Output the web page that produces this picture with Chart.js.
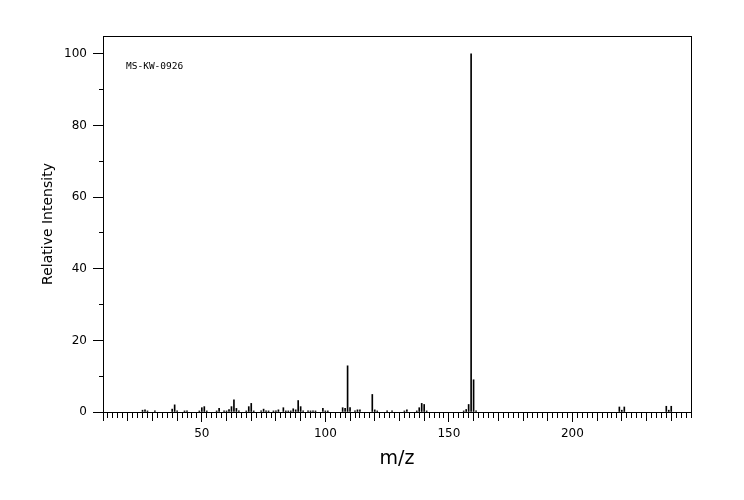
<!DOCTYPE html>
<html>
<head>
<meta charset="utf-8">
<title>MS-KW-0926</title>
<script src="https://cdn.jsdelivr.net/npm/chart.js@4.4.1/dist/chart.umd.min.js"></script>
<style>
  html, body { margin: 0; padding: 0; background: #fff; }
  #chartContainer { width: 744px; height: 500px; }
</style>
</head>
<body>
<div id="chartContainer"><canvas id="msChart" width="744" height="500"></canvas></div>
<script>
// Peak list (m/z and relative intensity)
var mzValues = [26, 27, 28, 31, 38, 39, 40, 43, 44, 49, 50, 51, 52, 56, 57, 59, 60, 61, 62, 63,
  64, 65, 68, 69, 70, 71, 74, 75, 76, 77, 79, 80, 81, 83, 84, 85, 86, 87, 88, 89,
  90, 91, 93, 94, 95, 96, 99, 100, 101, 107, 108, 109, 110, 112, 113, 114, 119, 120, 121, 125,
  127, 132, 133, 137, 138, 139, 140, 141, 156, 157, 158, 159, 160, 161, 219, 220, 221, 238, 239, 240];
var intensities = [0.5, 0.6, 0.3, 0.3, 0.8, 2.0, 0.3, 0.3, 0.3, 0.3, 1.2, 1.5, 0.3, 0.3, 1.0, 0.3, 0.3, 0.7, 1.5, 3.4,
  1.0, 0.3, 0.3, 1.5, 2.4, 0.3, 0.3, 0.8, 0.3, 0.3, 0.3, 0.3, 0.6, 1.2, 0.3, 0.3, 0.3, 0.9, 0.6, 3.2,
  1.5, 0.3, 0.3, 0.3, 0.3, 0.3, 1.0, 0.3, 0.3, 1.2, 1.0, 12.9, 1.2, 0.3, 0.6, 0.6, 4.9, 0.6, 0.3, 0.3,
  0.3, 0.3, 0.6, 0.3, 1.2, 2.4, 2.1, 0.3, 0.3, 0.7, 2.1, 100, 9.0, 0.3, 1.4, 0.5, 1.4, 1.6, 0.5, 1.6];

// Which ticks carry a label
var xLabelTicks = [50, 100, 150, 200];
var yLabelTicks = [0, 20, 40, 60, 80, 100];
var sampleId = 'MS-KW-0926';

var fontFamily = '"DejaVu Sans", sans-serif';
Chart.defaults.color = '#000';
Chart.defaults.font.family = fontFamily;

// Frame round the plot area and the sample id in its corner
var framePlugin = {
  id: 'frame',
  afterDraw: function(chart) {
    var ctx = chart.ctx;
    var area = chart.chartArea;
    var l = Math.round(area.left) + 0.5;
    var t = Math.round(area.top) + 0.5;
    var r = Math.round(area.right) + 0.5;
    var b = Math.round(area.bottom) + 0.5;
    ctx.save();
    ctx.strokeStyle = '#000';
    ctx.lineWidth = 1;
    ctx.strokeRect(l, t, r - l, b - t);
    ctx.font = '9.5px "DejaVu Sans Mono", monospace';
    ctx.fillStyle = '#000';
    ctx.textBaseline = 'middle';
    ctx.fillText(sampleId, area.left + 23, area.top + 31);
    ctx.restore();
  }
};

var points = mzValues.map(function(mz, i) {
  return { x: mz, y: intensities[i] };
});

var ctx = document.getElementById('msChart').getContext('2d');
var chart = new Chart(ctx, {
  type: 'bar',
  data: {
    datasets: [{
      label: 'Relative Intensity',
      data: points,
      backgroundColor: '#000',
      borderWidth: 0,
      barThickness: 1
    }]
  },
  options: {
    responsive: false,
    animation: false,
    layout: { padding: { left: 0, top: 36, right: 53, bottom: 0 } },
    plugins: {
      legend: { display: false },
      tooltip: { enabled: false }
    },
    scales: {
      x: {
        type: 'linear',
        min: 10,
        max: 248,
        offset: false,
        afterFit: function(scale) { scale.height = 88; },
        border: { display: true, color: '#000', width: 1 },
        grid: {
          offset: false,
          drawOnChartArea: false,
          tickLength: 10,
          tickColor: '#000',
          tickBorderDash: function(c) {
            var v = c.tick ? c.tick.value : 0;
            if (v % 50 === 0) return [];
            if (v % 10 === 0) return [8, 100];
            return [5, 100];
          }
        },
        ticks: {
          stepSize: 2,
          autoSkip: false,
          includeBounds: false,
          maxRotation: 0,
          padding: 5,
          font: { size: 12 },
          callback: function(value) {
            return xLabelTicks.indexOf(value) >= 0 ? value : '';
          }
        },
        title: {
          display: true,
          text: 'm/z',
          font: { size: 19 },
          padding: { top: 4, bottom: 30 }
        }
      },
      y: {
        min: 0,
        max: 105,
        afterFit: function(scale) { scale.width = 103; },
        border: { display: true, color: '#000', width: 1 },
        grid: {
          drawOnChartArea: false,
          tickLength: 10,
          tickColor: '#000',
          tickBorderDash: function(c) {
            var v = c.tick ? c.tick.value : 0;
            if (v % 20 === 0) return [];
            return [0, 6, 4, 100];
          }
        },
        ticks: {
          stepSize: 10,
          includeBounds: false,
          padding: 6,
          font: { size: 12 },
          callback: function(value) {
            return yLabelTicks.indexOf(value) >= 0 ? value : '';
          }
        },
        title: {
          display: true,
          text: 'Relative Intensity',
          font: { size: 14 },
          padding: { top: 40, bottom: 4 }
        }
      }
    }
  },
  plugins: [framePlugin]
});
</script>
</body>
</html>
